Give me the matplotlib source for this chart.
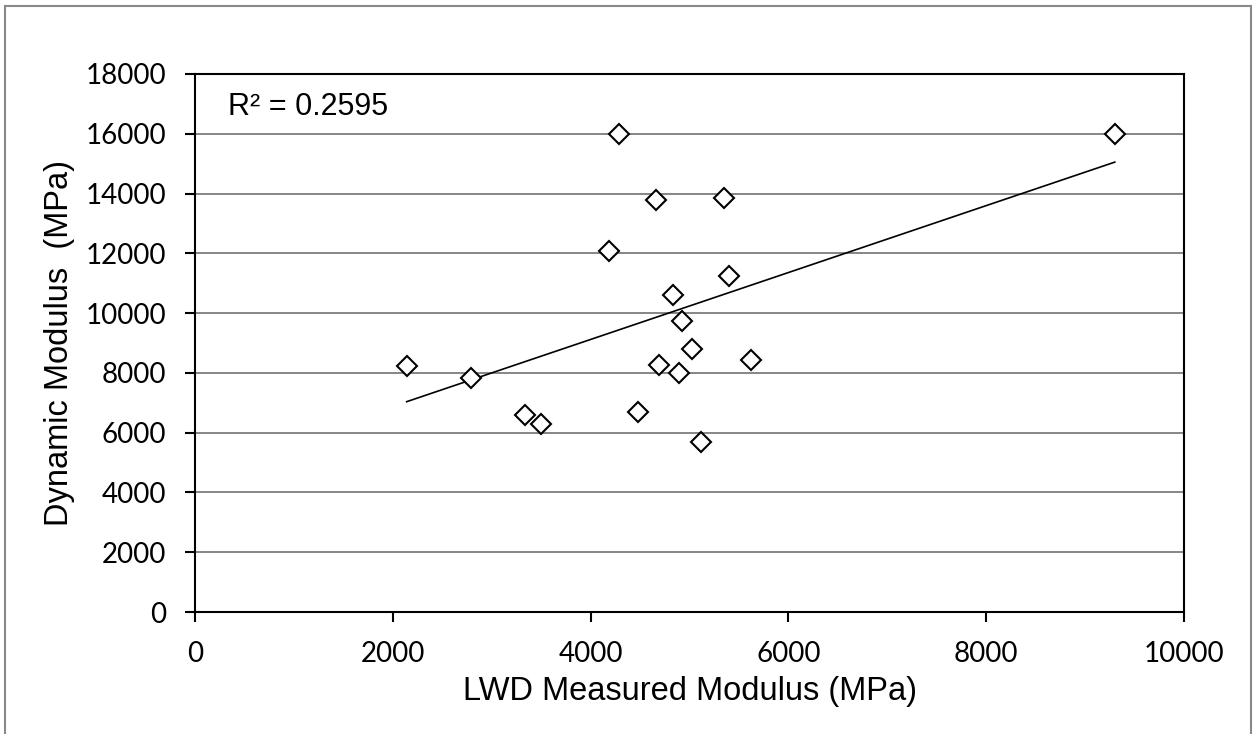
import matplotlib
matplotlib.use('Agg')
import matplotlib.pyplot as plt
import numpy as np
from matplotlib.patches import Rectangle

# LWD measured modulus vs dynamic modulus (MPa)
lwd_modulus = [2140, 2790, 3340, 3500, 4190, 4290, 4480, 4660, 4690,
               4830, 4890, 4920, 5030, 5120, 5350, 5400, 5620, 9300]
dynamic_modulus = [8240, 7840, 6600, 6290, 12090, 16000, 6700, 13790, 8270,
                   10610, 8010, 9720, 8790, 5700, 13840, 11250, 8430, 16000]
x_ticks = [0, 2000, 4000, 6000, 8000, 10000]
y_ticks = [0, 2000, 4000, 6000, 8000, 10000, 12000, 14000, 16000, 18000]
r2_label = "R² = 0.2595"

x = np.array(lwd_modulus)
y = np.array(dynamic_modulus)

fig = plt.figure(figsize=(12.54, 7.34), dpi=100)
ax = fig.add_axes([0.1555, 0.1662, 0.9442 - 0.1555, 0.8992 - 0.1662])

# outer chart border
fig.patches.append(Rectangle((5 / 1254, -0.05), 1246 / 1254, 1.05 - 6 / 734,
                             transform=fig.transFigure, fill=False,
                             edgecolor='#898989', linewidth=1.5))

ax.yaxis.grid(True, color='#868686', linewidth=1.4)
ax.set_axisbelow(True)

# linear trendline
slope, intercept = np.polyfit(x, y, 1)
xl = np.array([x.min(), x.max()])
ax.plot(xl, slope * xl + intercept, color='black', linewidth=1.2, zorder=2)

ax.plot(x, y, linestyle='none', marker='D', markersize=9.7,
        markerfacecolor='white', markeredgecolor='black',
        markeredgewidth=1.5, zorder=3)

ax.set_xlim(0, 10000)
ax.set_ylim(0, 18000)
ax.set_xticks(x_ticks)
ax.set_yticks(y_ticks)
for s in ax.spines.values():
    s.set_linewidth(1.5)
    s.set_color('black')
ax.tick_params(direction='out', length=7, width=1.5, labelsize=20)
ax.tick_params(axis='y', pad=14)
ax.tick_params(axis='x', pad=14)
for lab in ax.get_xticklabels() + ax.get_yticklabels():
    lab.set_fontfamily('Lato')

ax.set_xlabel('LWD Measured Modulus (MPa)', fontsize=23.5,
              family='Liberation Sans', labelpad=6)
ax.set_ylabel('Dynamic Modulus  (MPa)', fontsize=23.5,
              family='Liberation Sans', labelpad=7)

ax.text(0.0334, 0.9387, r2_label, transform=ax.transAxes, fontsize=22,
        family='Liberation Sans', va='center', ha='left')

fig.savefig('out.png', dpi=100)
